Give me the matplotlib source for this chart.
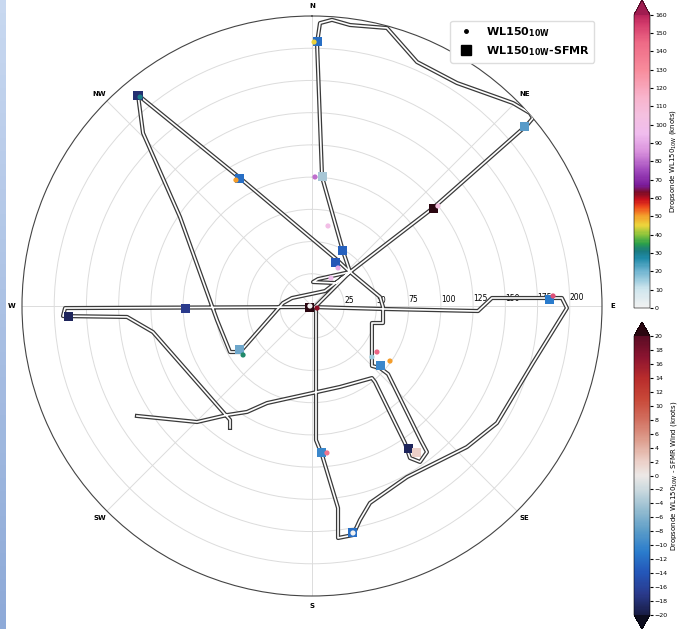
#! /usr/bin/env python3
# Dropsonde WL150 vs SFMR along flight track, storm-relative polar view

import numpy as np
import matplotlib
matplotlib.use('Agg')
import matplotlib.pyplot as plt
import matplotlib.patheffects as pe
from matplotlib.colors import LinearSegmentedColormap, Normalize
from matplotlib.lines import Line2D
from matplotlib.cm import ScalarMappable

# flight track, east / north of storm centre (km)
track_east = [-135.8, -89.2, -65.9, -50.4, -34.9, 21.7, 46.5, 48.9, 72.1, 76.0,
              83.8, 89.2, 84.6, 59.0, 52.8, 46.5, 46.5, 55.1, 55.1, 52.8,
              29.5, 17.8, -55.9, -135.0, -131.1, -102.4, -73.7, -63.6, -55.9, -22.5,
              -15.5, 10.1, 29.5, 4.7, 0.8, 18.6, 29.5, 24.0, 7.8, 3.9,
              6.2, 15.5, 29.5, 58.2, 81.5, 112.5, 155.9, 169.1, 171.4, 166.8,
              93.9, 29.5, 3.1, 3.1, 7.8, 20.2, 20.2, 31.8, 37.2, 45.0,
              73.7, 120.2, 143.5, 171.4, 197.8, 193.9, 182.3, 139.6, 128.8, 55.1,
              0.0, -191.6, -193.2, -143.5, -123.4, -63.6, -63.6]
track_north = [-85.3, -90.0, -84.6, -82.2, -75.3, -62.8, -55.9, -59.0, -106.3, -117.9,
               -121.0, -113.3, -104.7, -52.8, -48.1, -46.5, -13.2, -13.2, -0.8, 7.0,
               26.4, 37.2, 99.3, 163.7, 134.2, 69.0, -10.9, -35.7, -35.7, 2.3,
               6.2, 11.6, 26.4, 20.9, 18.6, 17.8, 26.4, 42.7, 100.1, 204.0,
               219.5, 222.0, 218.0, 215.7, 189.3, 173.0, 157.5, 149.7, 145.8, 140.4,
               76.0, 26.4, 0.0, -104.0, -115.6, -156.7, -180.0, -177.7, -166.0, -152.8,
               -132.7, -109.4, -90.8, -44.2, -1.6, 6.2, 6.2, 6.2, -3.9, -2.3,
               -0.8, -1.6, -7.8, -8.5, -20.2, -88.4, -94.6]

# dropsonde minus SFMR (knots), square markers
sfmr_east = [3.9, -135.0, -55.9, 24.0, 18.6, 7.8, 165.2, 93.9, -1.6, 184.6,
             -98.5, -189.3, -55.9, 7.0, 52.8, 74.5, 80.7, 31.8]
sfmr_north = [205.6, 163.7, 99.3, 43.4, 33.4, 100.1, 138.9, 76.0, -0.8, 5.4,
              -1.6, -8.5, -34.1, -113.3, -46.5, -110.2, -113.3, -176.1]
sfmr_diff = [-12, -18, -12, -13, -14, -4, -8, 25, 25, -11,
             -17, -19, -7, -10, -10, -19, 2, -12]

# dropsonde WL150 (knots), dot markers
wl_east = [-1.6, 3.9, 31.8, 2.3, 12.4, 20.2, 14.7, 97.7, 187.0, 11.6,
           46.5, 50.4, 60.5, -53.5, -133.4, -59.0, 1.6]
wl_north = [0.0, -1.6, -176.1, 100.1, 62.1, 29.5, 21.7, 77.6, 7.8, -114.0,
            -39.6, -35.7, -42.7, -38.0, 162.1, 97.7, 204.8]
wl_speed = [0, 62, 0, 80, 100, 90, 95, 105, 150, 140,
            15, 145, 50, 33, 30, 50, 45]

compass = ['N', 'NE', 'E', 'SE', 'S', 'SW', 'W', 'NW']
r_ticks = [25, 50, 75, 100, 125, 150, 175, 200]

# colour maps
wl_stops = [(0, '#f2f2f2'), (10, '#cfe6ee'), (20, '#6fb4d0'), (27, '#1f8aa8'),
            (31, '#1a7a80'), (35, '#2aa04a'), (40, '#8cc43c'), (45, '#ecd43c'),
            (50, '#f4a02c'), (55, '#ee4a1c'), (59, '#c8101c'), (63, '#7a0c28'),
            (67, '#7a1c9c'), (75, '#a048bc'), (85, '#d890dc'), (95, '#f0bcee'),
            (105, '#f4c0e0'), (115, '#f8b4cc'), (130, '#f88c9c'), (145, '#ee6a86'),
            (155, '#d43c6c'), (160, '#b8245a')]
diff_stops = [(-20, '#181c44'), (-17, '#2a3a8c'), (-14, '#2456b8'), (-11, '#2a7ccc'),
              (-8, '#5a9cc8'), (-5, '#94bcd0'), (-2, '#ccdadf'), (0, '#ece8e6'),
              (2, '#ecd0c8'), (5, '#dea090'), (8, '#d27060'), (11, '#c84838'),
              (14, '#b82c2c'), (17, '#8c1430'), (20, '#5a0c24')]

wl_cmap = LinearSegmentedColormap.from_list(
    'wl', [((v - 0) / 160, c) for v, c in wl_stops])
wl_cmap.set_over('#a01c50')
diff_cmap = LinearSegmentedColormap.from_list(
    'diff', [((v + 20) / 40, c) for v, c in diff_stops])
diff_cmap.set_over('#2a0610')
diff_cmap.set_under('#0c0c1e')
wl_norm = Normalize(0, 160)
diff_norm = Normalize(-20, 20)


def to_polar(east, north):
    east = np.asarray(east)
    north = np.asarray(north)
    return np.arctan2(east, north), np.hypot(east, north)


fig = plt.figure(figsize=(6.79, 6.29), dpi=100)

# blue strip on the left edge of the screenshot
strip = fig.add_axes([0, 0, 6 / 679, 1])
strip.imshow(np.linspace(0, 1, 50).reshape(-1, 1), aspect='auto',
             cmap=LinearSegmentedColormap.from_list('s', ['#c8d8f0', '#8eaad8']))
strip.axis('off')

ax = fig.add_axes([22 / 679, 33 / 629, 580 / 679, 580 / 629], projection='polar')
ax.set_theta_zero_location('N')
ax.set_theta_direction(-1)
ax.set_ylim(0, 225)
ax.set_rticks(r_ticks)
ax.set_yticklabels([str(r) for r in r_ticks], fontsize=5.5)
ax.set_rlabel_position(89)
ax.set_xticks(np.deg2rad(np.arange(0, 360, 45)))
ax.set_xticklabels(compass, fontsize=5, fontweight='bold')
ax.tick_params(axis='x', pad=-3)
ax.grid(color='#dcdcdc', lw=0.7)
ax.spines['polar'].set_color('#444444')
ax.spines['polar'].set_linewidth(0.8)

th, rr = to_polar(track_east, track_north)
ax.plot(th, rr, color='white', lw=1.2, zorder=3, solid_joinstyle='round',
        path_effects=[pe.Stroke(linewidth=3.0, foreground='#3a3a3a'), pe.Normal()])

th, rr = to_polar(sfmr_east, sfmr_north)
ax.scatter(th, rr, c=sfmr_diff, cmap=diff_cmap, norm=diff_norm, marker='s',
           s=42, lw=0, zorder=4)
th, rr = to_polar(wl_east, wl_north)
ax.scatter(th, rr, c=wl_speed, cmap=wl_cmap, norm=wl_norm, marker='o',
           s=14, lw=0, zorder=5)

handles = [Line2D([], [], ls='', marker='.', color='k', ms=5),
           Line2D([], [], ls='', marker='s', color='k', ms=7)]
ax.legend(handles, [r'WL150$_{\mathbf{10W}}$', r'WL150$_{\mathbf{10W}}$-SFMR'],
          loc='upper right', bbox_to_anchor=(600 / 679, 1 - 15 / 629),
          bbox_transform=fig.transFigure, prop={'weight': 'bold', 'size': 8},
          framealpha=1, edgecolor='#dddddd')

cax1 = fig.add_axes([634 / 679, 321 / 629, 16 / 679, 308 / 629])
cb1 = fig.colorbar(ScalarMappable(norm=wl_norm, cmap=wl_cmap), cax=cax1,
                   extend='max', ticks=range(0, 161, 10))
cb1.ax.tick_params(labelsize=4.5, length=2, pad=1.5)
cb1.set_label(r'Dropsonde WL150$_{\mathrm{10W}}$ (knots)', fontsize=5, labelpad=1)
cb1.outline.set_linewidth(0.4)

cax2 = fig.add_axes([634 / 679, 0, 16 / 679, 307 / 629])
cb2 = fig.colorbar(ScalarMappable(norm=diff_norm, cmap=diff_cmap), cax=cax2,
                   extend='both', ticks=range(-20, 21, 2))
cb2.ax.tick_params(labelsize=4.5, length=2, pad=1.5)
cb2.set_label(r'Dropsonde WL150$_{\mathrm{10W}}$ - SFMR Wind (knots)', fontsize=5,
              labelpad=1)
cb2.outline.set_linewidth(0.4)

plt.savefig('out.png', dpi=100)
plt.close(fig)
